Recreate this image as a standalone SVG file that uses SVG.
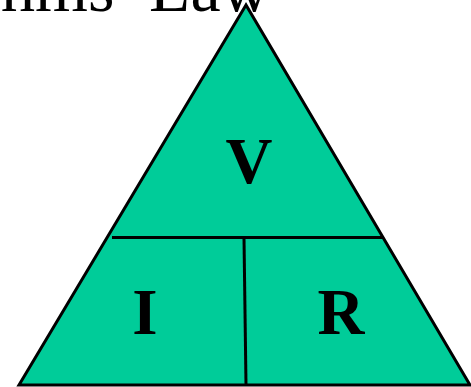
<svg xmlns="http://www.w3.org/2000/svg" width="471" height="387" viewBox="0 0 471 387">
<style>
.title{font-family:"Liberation Serif","Times New Roman",serif;font-size:68px;fill:#000}
.lbl{font-family:"Liberation Serif","Times New Roman",serif;font-size:65px;font-weight:bold;fill:#000;text-anchor:middle}
.ln{stroke:#000;stroke-width:3;fill:none}
</style>
<rect width="471" height="387" fill="#fff"/>
<g id="title"><text class="title" y="11"><tspan x="-48">Ohms</tspan><tspan x="149">Law</tspan></text></g>
<g id="triangle"><polygon points="246,5 19,385 470,385" fill="#00CC99" stroke="#000" stroke-width="3" stroke-linejoin="miter"/></g>
<g id="connectors">
<line class="ln" x1="112" y1="237.5" x2="383" y2="237.5"/>
<line class="ln" x1="244" y1="238" x2="246" y2="385"/>
</g>
<g id="node-v"><text class="lbl" x="249" y="183">V</text></g>
<g id="node-i"><text class="lbl" x="145" y="334">I</text></g>
<g id="node-r"><text class="lbl" x="341" y="334">R</text></g>
</svg>
